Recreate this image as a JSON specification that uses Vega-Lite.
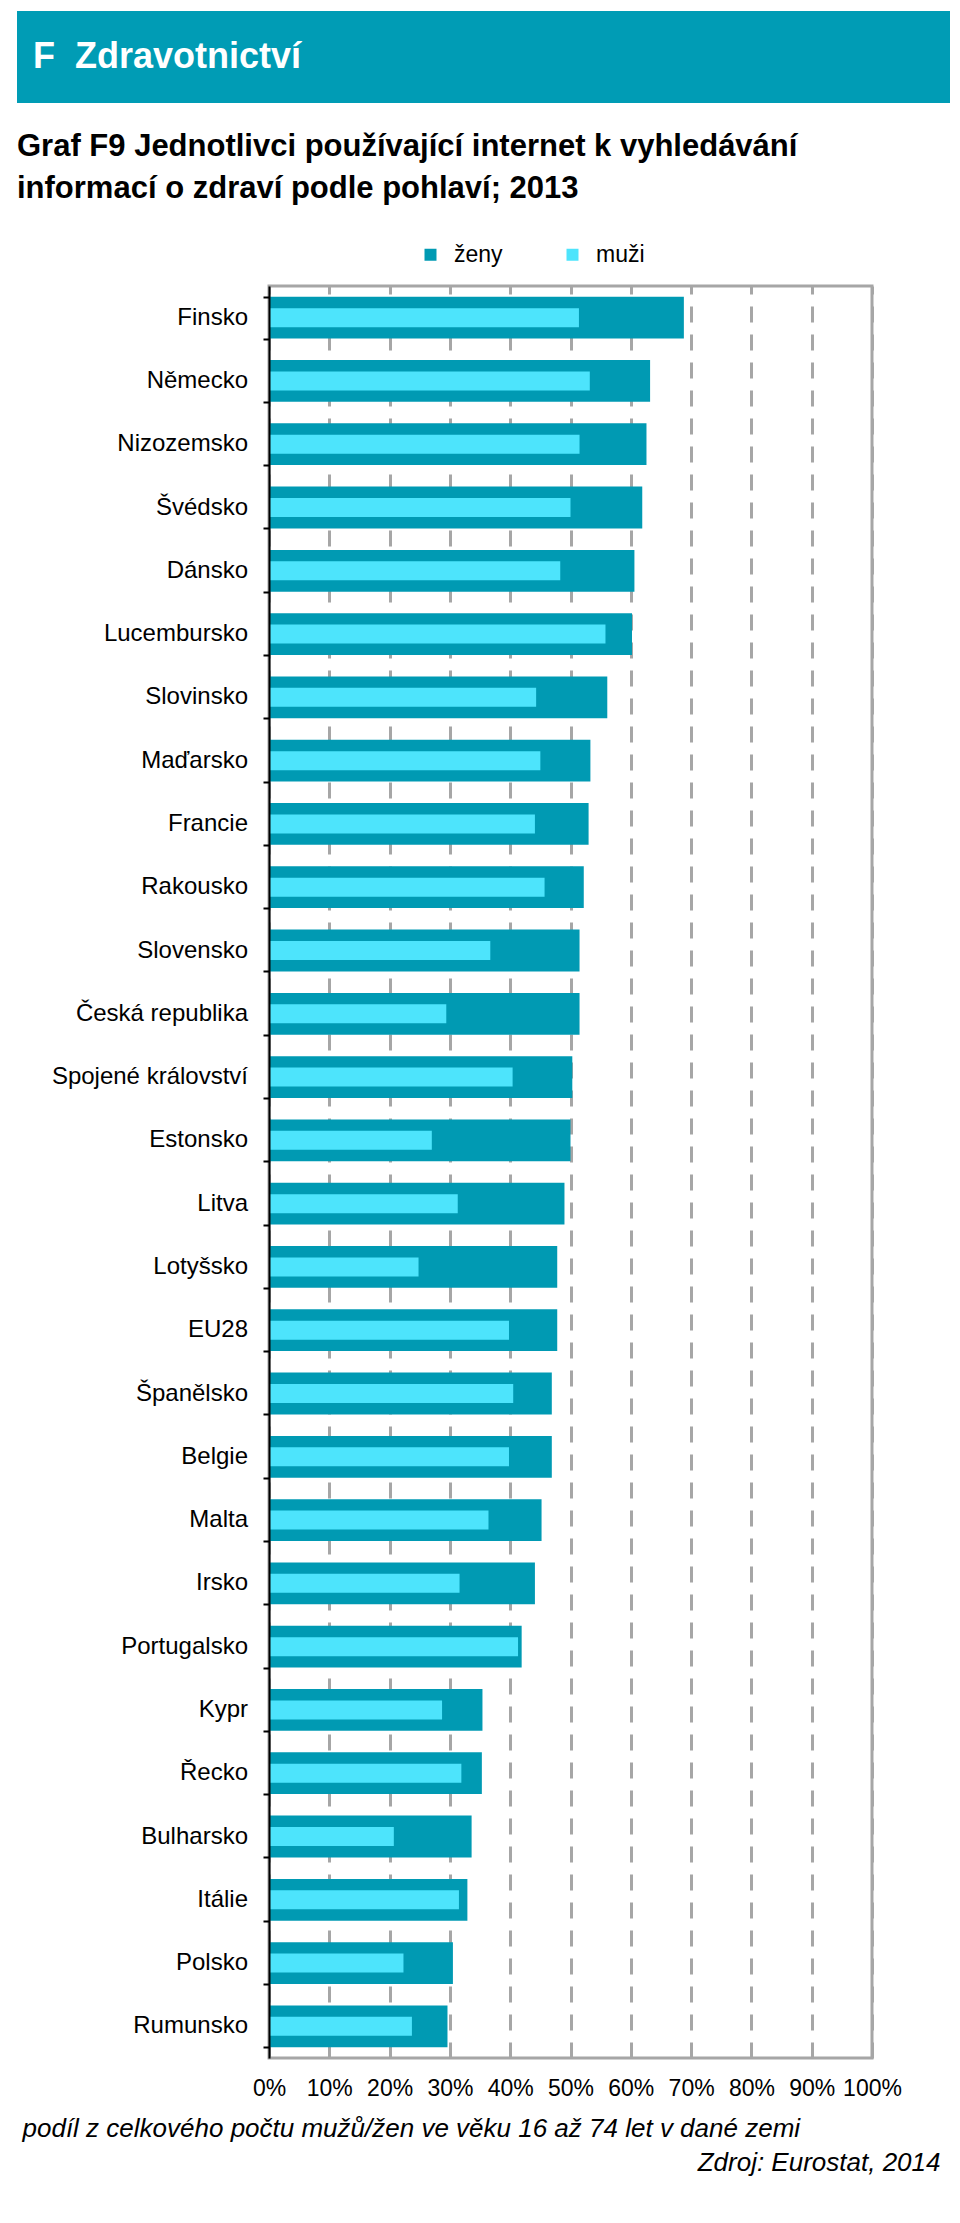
{
  "$schema": "https://vega.github.io/schema/vega-lite/v6.json",
  "background": "white",
  "padding": {"left": 17, "top": 11, "right": 10, "bottom": 10},
  "config": {
    "font": "Liberation Sans",
    "view": {"stroke": null}
  },
  "bounds": "flush",
  "spacing": 183,
  "resolve": {"scale": {"color": "independent"}},
  "vconcat": [
    {
      "width": 933,
      "height": 92,
      "view": {"fill": "#009CB5", "stroke": null},
      "data": {"values": [{"t": "F\u00a0\u00a0Zdravotnictví"}]},
      "mark": {"type": "text", "align": "left", "baseline": "middle", "x": 16, "y": 46, "fontSize": 36, "fontWeight": "bold", "color": "white", "font": "Liberation Sans"},
      "encoding": {"text": {"field": "t", "type": "nominal"}}
    },
    {
      "title": {
        "text": ["Graf F9 Jednotlivci používající internet k vyhledávání", "informací o zdraví podle pohlaví; 2013"],
        "anchor": "start",
        "frame": "group",
        "offset": 37,
        "fontSize": 31,
        "fontWeight": "bold",
        "font": "Liberation Sans",
        "color": "black",
        "lineHeight": 42
      },
      "bounds": "flush",
      "spacing": 0,
      "resolve": {"scale": {"color": "independent"}},
      "data": {"values": [
        {"country": "Finsko", "sex": "ženy", "value": 68.8}, {"country": "Finsko", "sex": "muži", "value": 51.4},
        {"country": "Německo", "sex": "ženy", "value": 63.2}, {"country": "Německo", "sex": "muži", "value": 53.2},
        {"country": "Nizozemsko", "sex": "ženy", "value": 62.6}, {"country": "Nizozemsko", "sex": "muži", "value": 51.5},
        {"country": "Švédsko", "sex": "ženy", "value": 61.9}, {"country": "Švédsko", "sex": "muži", "value": 50.0},
        {"country": "Dánsko", "sex": "ženy", "value": 60.6}, {"country": "Dánsko", "sex": "muži", "value": 48.3},
        {"country": "Lucembursko", "sex": "ženy", "value": 60.2}, {"country": "Lucembursko", "sex": "muži", "value": 55.8},
        {"country": "Slovinsko", "sex": "ženy", "value": 56.1}, {"country": "Slovinsko", "sex": "muži", "value": 44.3},
        {"country": "Maďarsko", "sex": "ženy", "value": 53.3}, {"country": "Maďarsko", "sex": "muži", "value": 45.0},
        {"country": "Francie", "sex": "ženy", "value": 53.0}, {"country": "Francie", "sex": "muži", "value": 44.1},
        {"country": "Rakousko", "sex": "ženy", "value": 52.2}, {"country": "Rakousko", "sex": "muži", "value": 45.7},
        {"country": "Slovensko", "sex": "ženy", "value": 51.5}, {"country": "Slovensko", "sex": "muži", "value": 36.7},
        {"country": "Česká republika", "sex": "ženy", "value": 51.5}, {"country": "Česká republika", "sex": "muži", "value": 29.4},
        {"country": "Spojené království", "sex": "ženy", "value": 50.3}, {"country": "Spojené království", "sex": "muži", "value": 40.4},
        {"country": "Estonsko", "sex": "ženy", "value": 50.0}, {"country": "Estonsko", "sex": "muži", "value": 27.0},
        {"country": "Litva", "sex": "ženy", "value": 49.0}, {"country": "Litva", "sex": "muži", "value": 31.3},
        {"country": "Lotyšsko", "sex": "ženy", "value": 47.8}, {"country": "Lotyšsko", "sex": "muži", "value": 24.8},
        {"country": "EU28", "sex": "ženy", "value": 47.8}, {"country": "EU28", "sex": "muži", "value": 39.8},
        {"country": "Španělsko", "sex": "ženy", "value": 46.9}, {"country": "Španělsko", "sex": "muži", "value": 40.5},
        {"country": "Belgie", "sex": "ženy", "value": 46.9}, {"country": "Belgie", "sex": "muži", "value": 39.8},
        {"country": "Malta", "sex": "ženy", "value": 45.2}, {"country": "Malta", "sex": "muži", "value": 36.4},
        {"country": "Irsko", "sex": "ženy", "value": 44.1}, {"country": "Irsko", "sex": "muži", "value": 31.6},
        {"country": "Portugalsko", "sex": "ženy", "value": 41.9}, {"country": "Portugalsko", "sex": "muži", "value": 41.3},
        {"country": "Kypr", "sex": "ženy", "value": 35.4}, {"country": "Kypr", "sex": "muži", "value": 28.7},
        {"country": "Řecko", "sex": "ženy", "value": 35.3}, {"country": "Řecko", "sex": "muži", "value": 31.9},
        {"country": "Bulharsko", "sex": "ženy", "value": 33.6}, {"country": "Bulharsko", "sex": "muži", "value": 20.7},
        {"country": "Itálie", "sex": "ženy", "value": 32.9}, {"country": "Itálie", "sex": "muži", "value": 31.5},
        {"country": "Polsko", "sex": "ženy", "value": 30.5}, {"country": "Polsko", "sex": "muži", "value": 22.3},
        {"country": "Rumunsko", "sex": "ženy", "value": 29.6}, {"country": "Rumunsko", "sex": "muži", "value": 23.7}
      ]},
      "hconcat": [
        {
          "width": 252,
          "height": 1772,
          "transform": [{"filter": "datum.sex === 'ženy'"}],
          "mark": {"type": "text", "align": "right", "baseline": "middle", "x": 231, "fontSize": 24, "color": "black", "font": "Liberation Sans"},
          "encoding": {
            "y": {
              "field": "country",
              "type": "nominal",
              "sort": ["Finsko", "Německo", "Nizozemsko", "Švédsko", "Dánsko", "Lucembursko", "Slovinsko", "Maďarsko", "Francie", "Rakousko", "Slovensko", "Česká republika", "Spojené království", "Estonsko", "Litva", "Lotyšsko", "EU28", "Španělsko", "Belgie", "Malta", "Irsko", "Portugalsko", "Kypr", "Řecko", "Bulharsko", "Itálie", "Polsko", "Rumunsko"],
              "scale": {"paddingInner": 0.34, "paddingOuter": 0.17},
              "axis": null
            },
            "text": {"field": "country", "type": "nominal"}
          }
        },
        {
          "width": 603,
          "height": 1772,
          "view": {"stroke": "#A6A6A6", "strokeWidth": 3},
          "encoding": {
            "y": {
              "field": "country",
              "type": "nominal",
              "sort": ["Finsko", "Německo", "Nizozemsko", "Švédsko", "Dánsko", "Lucembursko", "Slovinsko", "Maďarsko", "Francie", "Rakousko", "Slovensko", "Česká republika", "Spojené království", "Estonsko", "Litva", "Lotyšsko", "EU28", "Španělsko", "Belgie", "Malta", "Irsko", "Portugalsko", "Kypr", "Řecko", "Bulharsko", "Itálie", "Polsko", "Rumunsko"],
              "scale": {"paddingInner": 0.34, "paddingOuter": 0.17},
              "axis": {
                "title": "Zdroj: Eurostat, 2014",
                "titleAngle": 0,
                "titleAlign": "right",
                "titleBaseline": "middle",
                "titleX": 671,
                "titleY": 1876,
                "titleFontSize": 26,
                "titleFontStyle": "italic",
                "titleFontWeight": "normal",
                "titleColor": "black",
                "titleFont": "Liberation Sans",
                "labels": false,
                "domain": true,
                "domainColor": "black",
                "domainWidth": 2,
                "ticks": true,
                "tickColor": "black",
                "tickWidth": 2,
                "tickSize": 6,
                "tickBand": "extent",
                "zindex": 1
              }
            },
            "x": {
              "field": "value",
              "type": "quantitative",
              "scale": {"domain": [0, 100], "nice": false},
              "axis": {
                "title": "podíl z celkového počtu mužů/žen ve věku 16 až 74 let v dané zemi",
                "titleAlign": "left",
                "titleBaseline": "middle",
                "titleX": -247,
                "titleY": 70,
                "titleFontSize": 26,
                "titleFontStyle": "italic",
                "titleFontWeight": "normal",
                "titleColor": "black",
                "titleFont": "Liberation Sans",
                "values": [0, 10, 20, 30, 40, 50, 60, 70, 80, 90, 100],
                "labelExpr": "datum.value + '%'",
                "domain": false,
                "ticks": false,
                "grid": true,
                "gridColor": "#A6A6A6",
                "gridWidth": 3,
                "gridDash": [16, 12],
                "labelFontSize": 23,
                "labelColor": "black",
                "labelPadding": 19,
                "labelFlush": false,
                "labelFont": "Liberation Sans"
              }
            },
            "color": {
              "field": "sex",
              "type": "nominal",
              "scale": {"domain": ["ženy", "muži"], "range": ["#009AB3", "#4DE4FC"]},
              "legend": {
                "title": null,
                "orient": "none",
                "legendX": 150,
                "legendY": -43,
                "direction": "horizontal",
                "symbolType": "square",
                "symbolSize": 144,
                "symbolStrokeWidth": 0,
                "symbolOpacity": 1,
                "labelFontSize": 23,
                "labelColor": "black",
                "labelFont": "Liberation Sans",
                "labelOffset": 12,
                "columnPadding": 58,
                "padding": 0
              }
            }
          },
          "layer": [
            {"transform": [{"filter": "datum.sex === 'ženy'"}], "mark": {"type": "bar", "opacity": 1}},
            {"transform": [{"filter": "datum.sex === 'muži'"}], "mark": {"type": "bar", "size": 19, "opacity": 1}}
          ]
        }
      ]
    }
  ]
}
